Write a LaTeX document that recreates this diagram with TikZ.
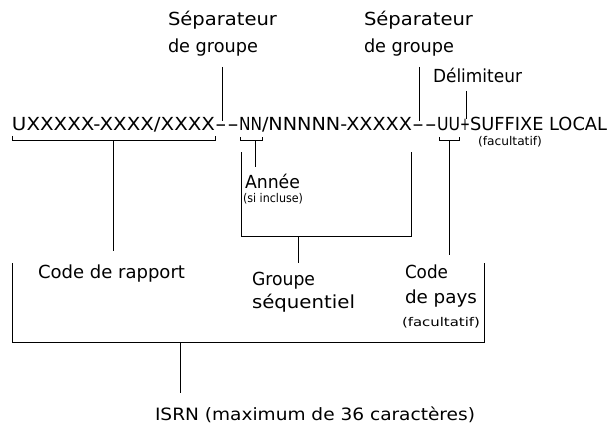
\documentclass[tikz,border=0pt]{standalone}
\usepackage{fontspec}
\setmainfont{DejaVu Sans}
\usepackage{graphicx}
\newcommand{\fw}[2]{\resizebox{#1}{\height}{#2}}
\tikzset{
  txt/.style={anchor=base west, inner sep=0pt, outer sep=0pt, font=\fontsize{18}{20}\selectfont},
  big/.style={anchor=base west, inner sep=0pt, outer sep=0pt, font=\fontsize{17}{19}\selectfont},
  sm/.style={anchor=base west, inner sep=0pt, outer sep=0pt, font=\fontsize{12}{14}\selectfont},
  ln/.style={line width=0.7pt, black, line join=miter},
}
\begin{document}
\begin{tikzpicture}[x=1pt,y=-1pt]
\useasboundingbox (0,0) rectangle (610,425);
% main code line
\node[txt] (s1) at (12,131) {\fw{203pt}{UXXXXX-XXXX/XXXX}};
\node[txt] (d1) at (s1.base east) {\fw{24pt}{-\kern0.5pt-}};
\node[txt] (s2) at (d1.base east) {\fw{23pt}{NN}};
\node[txt] (s3) at (s2.base east) {\fw{150pt}{/NNNNN-XXXXX}};
\node[txt] (d2) at (s3.base east) {\fw{25pt}{-\kern0.5pt-}};
\node[txt] (s4) at (d2.base east) {\fw{23pt}{UU}};
\node[txt] (s5) at (s4.base east) {\fw{10pt}{+}};
\node[txt] (s6) at (s5.base east) {\fw{137pt}{SUFFIXE LOCAL}};
% labels
\node[txt] (sep1a) at (168,26) {\fw{109pt}{Séparateur}};
\node[txt] (sep1b) at (168,53) {\fw{90pt}{de groupe}};
\node[txt] (sep2a) at (364,26) {\fw{109pt}{Séparateur}};
\node[txt] (sep2b) at (364,53) {\fw{90pt}{de groupe}};
\node[txt] (delim) at (433,83) {\fw{89pt}{Délimiteur}};
\node[sm] (fac2) at (478,146) {\fw{64pt}{(facultatif)}};
\node[txt] (annee) at (245,188) {\fw{55pt}{Année}};
\node[sm] (si) at (243,202) {\fw{60pt}{(si incluse)}};
\node[txt] (cdr) at (38,278) {\fw{147pt}{Code de rapport}};
\node[txt] (grp1) at (252,285) {\fw{63pt}{Groupe}};
\node[txt] (grp2) at (252,308) {\fw{103pt}{séquentiel}};
\node[txt] (cp1) at (405,278) {\fw{43pt}{Code}};
\node[txt] (cp2) at (405,303) {\fw{72pt}{de pays}};
\node[sm] (fac1) at (402,326) {\fw{78pt}{(facultatif)}};
\node[big] (isrn) at (155,420) {\fw{320pt}{ISRN (maximum de 36 caractères)}};
% coordinates
\coordinate (p1t) at (222,67);  \coordinate (p1b) at (222,121);
\coordinate (p2t) at (419,67);  \coordinate (p2b) at (419,121);
\coordinate (p3t) at (466,91);  \coordinate (p3b) at (466,119);
% code de rapport bracket
\coordinate (c1) at (12,136); \coordinate (c2) at (12,140);
\coordinate (c3) at (215,140); \coordinate (c4) at (215,136);
\coordinate (cm) at (113,140); \coordinate (ce) at (113,251);
% annee bracket
\coordinate (n1) at (240,137); \coordinate (n2) at (240,140);
\coordinate (n3) at (262,140); \coordinate (n4) at (262,137);
\coordinate (nm) at (255,140); \coordinate (ne) at (255,167);
% pays bracket
\coordinate (u1) at (439,137); \coordinate (u2) at (439,140);
\coordinate (u3) at (459,140); \coordinate (u4) at (459,137);
\coordinate (um) at (449,140); \coordinate (ue) at (449,255);
% sequential group bracket
\coordinate (g1) at (241,152); \coordinate (g2) at (241,236);
\coordinate (g3) at (411,236); \coordinate (g4) at (411,152);
\coordinate (gm) at (298,236); \coordinate (ge) at (298,263);
% ISRN bracket
\coordinate (i1) at (12,263); \coordinate (i2) at (12,342);
\coordinate (i3) at (484,342); \coordinate (i4) at (484,263);
\coordinate (im) at (180,342); \coordinate (ie) at (180,393);
% connectors
\draw[ln] (p1t) -- (p1b);
\draw[ln] (p2t) -- (p2b);
\draw[ln] (p3t) -- (p3b);
\draw[ln] (c1) -- (c2) -- (c3) -- (c4);
\draw[ln] (cm) -- (ce);
\draw[ln] (n1) -- (n2) -- (n3) -- (n4);
\draw[ln] (nm) -- (ne);
\draw[ln] (u1) -- (u2) -- (u3) -- (u4);
\draw[ln] (um) -- (ue);
\draw[ln] (g1) -- (g2) -- (g3) -- (g4);
\draw[ln] (gm) -- (ge);
\draw[ln] (i1) -- (i2) -- (i3) -- (i4);
\draw[ln] (im) -- (ie);
\end{tikzpicture}
\end{document}
